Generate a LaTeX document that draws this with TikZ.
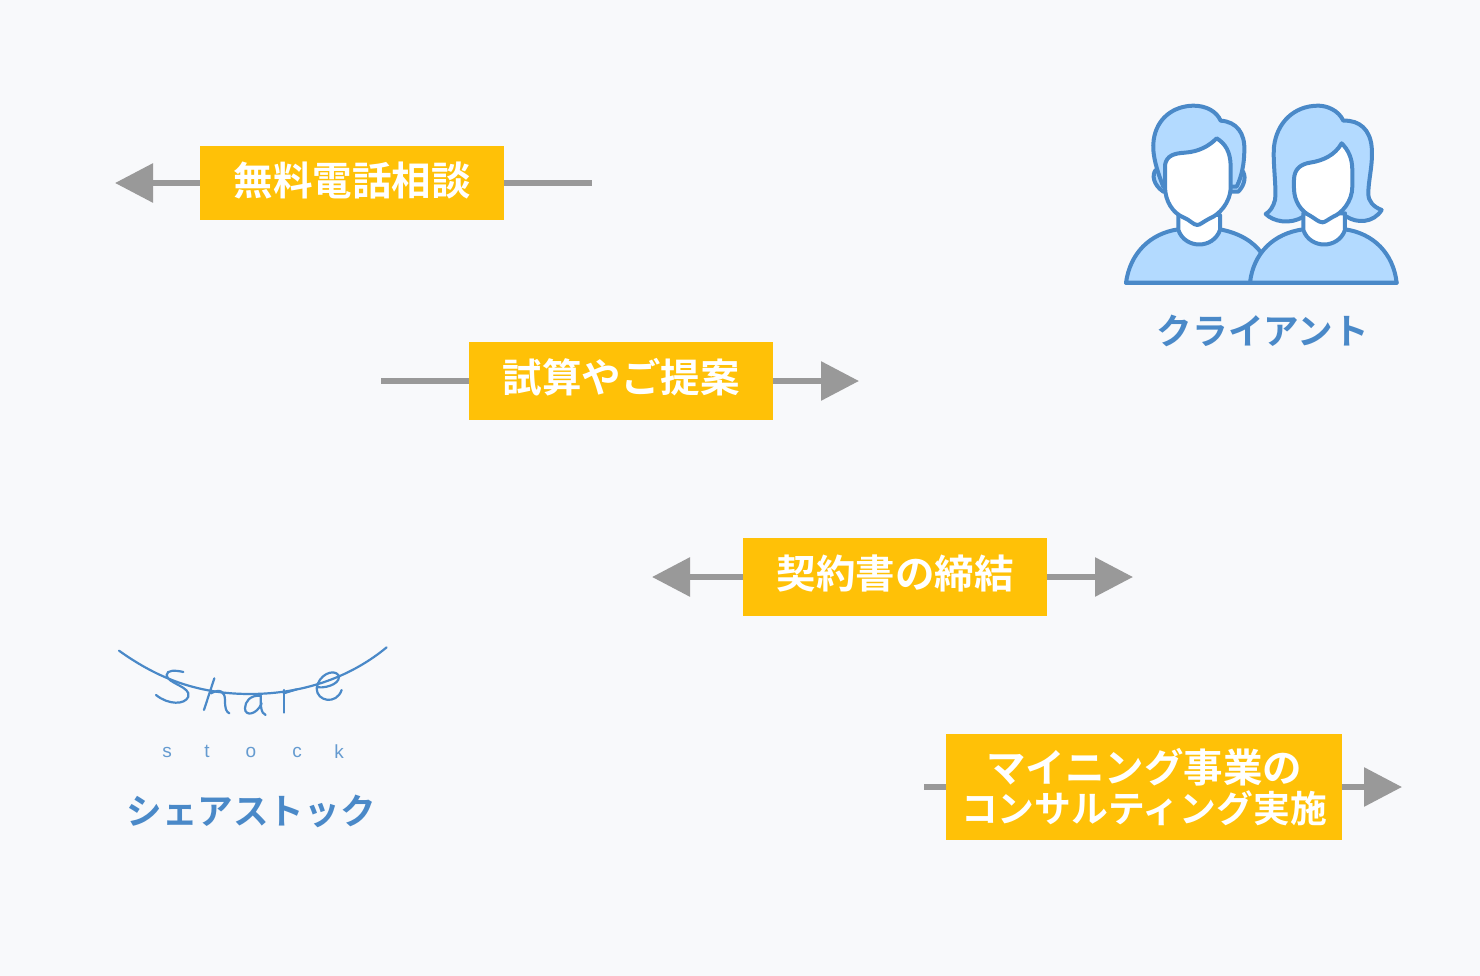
\documentclass[tikz,border=0pt]{standalone}
\usepackage{fontspec}
\setmainfont{Noto Sans CJK JP Bold}
\newfontfamily\logofont{Liberation Sans}
\usetikzlibrary{arrows.meta}
\usetikzlibrary{positioning}
\definecolor{pagebg}{HTML}{F8F9FB}
\definecolor{stepyellow}{HTML}{FFC107}
\definecolor{linkgrey}{HTML}{999999}
\definecolor{iconblue}{HTML}{4A89C8}
\definecolor{iconfill}{HTML}{B3DAFF}
\tikzset {
  % grey connectors, with or without a head
  link/.style = {
    draw = linkgrey,
    line width = 6pt
  },
  arr/.style = {
    link,
    -{Triangle[length = 38pt, width = 38pt, color = linkgrey]}
  },
  narr/.style = {
    link
  },
  % yellow step box
  stepbox/.style = {
    fill = stepyellow,
    text = white,
    inner sep = 0,
    align = center,
    minimum width = 304pt,
    minimum height = 78pt,
    font = \fontsize{39.5}{40}\selectfont
  },
  % one line of text, sits a little above the middle
  oneline/.style = {
    stepbox,
    text height = 30pt,
    text depth = 8pt
  },
  % caption below the icons
  caption/.style = {
    text = iconblue,
    inner sep = 0,
    font = \fontsize{35.6}{40}\selectfont
  },
  stockletter/.style = {
    text = iconblue!85,
    inner sep = 0,
    font = \logofont\fontsize{19}{20}\selectfont
  },
  iconline/.style = {
    draw = iconblue,
    line width = 4pt,
    line join = round
  },
  logoline/.style = {
    draw = iconblue,
    line width = 2.2pt,
    line cap = round
  }
}
\begin{document}
\begin{tikzpicture}[x = 1pt, y = -1pt]
  \fill[pagebg] (0,0) rectangle (1480,976);

  \node[oneline, minimum height = 74pt, text depth = 6pt, text height = 31pt] (consult) at (352,183) {無料電話相談};
  \node[oneline] (proposal) at (621,381) {試算やご提案};
  \node[oneline] (contract) at (895,577) {契約書の締結};
  \node[stepbox, minimum width = 396pt, minimum height = 106pt] (mining) at (1144,787)
    {マイニング事業の\\{\fontsize{36.8}{40}\selectfont コンサルティング実施}};

  \coordinate (consult tip) at (115,183);
  \coordinate (consult tail) at (592,183);
  \coordinate (proposal tail) at (381,381);
  \coordinate (proposal tip) at (859,381);
  \coordinate (contract left) at (652,577);
  \coordinate (contract right) at (1133,577);
  \coordinate (mining tail) at (924,787);
  \coordinate (mining tip) at (1402,787);

  \draw[arr] (consult) -- (consult tip);
  \draw[narr] (consult) -- (consult tail);
  \draw[narr] (proposal) -- (proposal tail);
  \draw[arr] (proposal) -- (proposal tip);
  \draw[arr] (contract) -- (contract left);
  \draw[arr] (contract) -- (contract right);
  \draw[narr] (mining) -- (mining tail);
  \draw[arr] (mining) -- (mining tip);

  % client icon
  \begin{scope}[shift = {(1110,90)}, x = 0.3333pt, y = -0.3333pt]
    % man
    \filldraw[iconline, fill = iconfill] (48,578) .. controls (60,490) and (120,430) .. (205,418)
      -- (330,418) .. controls (390,430) and (430,455) .. (455,490) -- (455,578) -- cycle;
    \filldraw[iconline, fill = white] (205,375) -- (205,420) .. controls (225,478) and (310,478) .. (330,420) -- (330,375) -- cycle;
    \filldraw[iconline, fill = iconfill] (137,240) .. controls (125,255) and (130,285) .. (160,305) -- (385,305)
      .. controls (405,285) and (410,255) .. (395,240) -- cycle;
    \filldraw[iconline, fill = iconfill] (160,290) .. controls (140,240) and (125,190) .. (131,150)
      .. controls (140,85) and (190,48) .. (250,47) .. controls (290,47) and (320,65) .. (332,92)
      .. controls (380,95) and (405,130) .. (403,180) .. controls (403,220) and (395,260) .. (380,290) -- cycle;
    \filldraw[iconline, fill = white] (165,225) .. controls (170,195) and (195,190) .. (225,188)
      .. controls (265,185) and (295,170) .. (320,145) .. controls (345,160) and (362,185) .. (362,230)
      -- (362,290) .. controls (362,340) and (325,375) .. (300,385) .. controls (280,395) and (270,405) .. (262,405)
      .. controls (250,405) and (240,390) .. (220,382) .. controls (190,370) and (165,335) .. (165,290) -- cycle;
    % woman
    \filldraw[iconline, fill = iconfill] (420,578) .. controls (430,490) and (490,430) .. (580,418)
      -- (705,418) .. controls (790,430) and (850,490) .. (860,578) -- cycle;
    \filldraw[iconline, fill = iconfill] (700,92) .. controls (685,60) and (650,47) .. (625,47)
      .. controls (550,47) and (500,100) .. (492,170) .. controls (488,220) and (500,290) .. (495,330)
      .. controls (490,350) and (480,365) .. (467,372) .. controls (490,395) and (540,405) .. (580,380)
      -- (710,380) .. controls (740,400) and (790,400) .. (815,360) .. controls (790,350) and (775,335) .. (775,310)
      .. controls (775,270) and (790,220) .. (785,170) .. controls (780,120) and (750,90) .. (700,92) -- cycle;
    \filldraw[iconline, fill = white] (580,370) -- (580,420) .. controls (600,478) and (685,478) .. (705,420) -- (705,370) -- cycle;
    \filldraw[iconline, fill = white] (552,270) .. controls (552,235) and (575,222) .. (600,218)
      .. controls (640,212) and (675,195) .. (695,160) .. controls (715,180) and (727,205) .. (727,240)
      -- (727,290) .. controls (727,335) and (695,370) .. (670,380) .. controls (655,388) and (645,397) .. (638,397)
      .. controls (625,397) and (615,385) .. (600,377) .. controls (575,365) and (552,335) .. (552,295) -- cycle;
    \draw[iconline, line cap = round] (48,578) -- (860,578);
  \end{scope}
  \node[caption] (client) at (1263,331) {クライアント};

  % logo, hand drawn lettering
  \begin{scope}[shift = {(100,630)}, x = 0.3333pt, y = -0.3333pt]
    \draw[logoline] (57,62) .. controls (180,150) and (300,192) .. (450,192) .. controls (620,192) and (760,135) .. (860,52);
    \draw[logoline] (250,126) .. controls (225,120) and (200,120) .. (200,135)
      .. controls (200,160) and (275,170) .. (265,200) .. controls (255,225) and (205,225) .. (168,195);
    \draw[logoline] (343,145) -- (312,240);
    \draw[logoline] (333,190) .. controls (360,175) and (375,185) .. (375,210) .. controls (375,235) and (378,245) .. (388,250);
    \draw[logoline] (482,197) .. controls (450,195) and (435,215) .. (435,235) .. controls (435,260) and (470,255) .. (485,220);
    \draw[logoline] (482,197) .. controls (482,225) and (482,250) .. (497,255);
    \draw[logoline] (551,180) -- (551,248);
    \draw[logoline] (551,190) -- (590,178);
    \draw[logoline] (652,172) .. controls (690,175) and (725,155) .. (715,135)
      .. controls (700,115) and (655,135) .. (650,175) .. controls (650,215) and (710,225) .. (725,180);
  \end{scope}
  \node[stockletter] (stock s) at (167,752) {s};
  \node[stockletter] (stock t) at (207,751) {t};
  \node[stockletter] (stock o) at (251,752) {o};
  \node[stockletter] (stock c) at (297,752) {c};
  \node[stockletter] (stock k) at (339,752) {k};
  \node[caption] (shareco) at (251,811) {シェアストック};
\end{tikzpicture}
\end{document}
